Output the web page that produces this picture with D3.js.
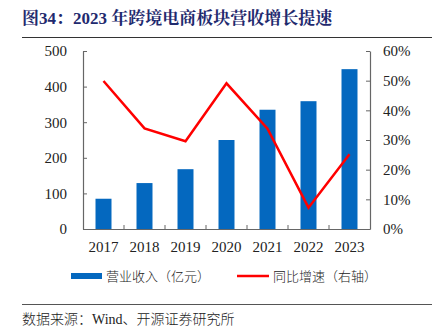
<!DOCTYPE html>
<html><head><meta charset="utf-8">
<script src="https://cdn.jsdelivr.net/npm/d3@7"></script>
<style>body{margin:0;background:#fff}svg{display:block}</style>
</head><body>
<script>
const years = ["2017","2018","2019","2020","2021","2022","2023"];
const revenue = [85, 129, 168, 250, 335, 359, 449];
const growth = [0.499, 0.339, 0.296, 0.491, 0.338, 0.072, 0.252];
const leftTicks = [0,100,200,300,400,500];
const rightTicks = [0,0.1,0.2,0.3,0.4,0.5,0.6];
const title = "图34：2023 年跨境电商板块营收增长提速";
const legendLabels = ["营业收入（亿元）","同比增速（右轴）"];
const source = "数据来源：Wind、开源证券研究所";

const W=437,H=330;
const svg=d3.select("body").append("svg").attr("width",W).attr("height",H);
const x0=83,x1=370,yTop=51,yBot=229;
const x=d3.scaleBand().domain(years).range([x0,x1]).paddingInner(0.61).paddingOuter(0.305);
const yL=d3.scaleLinear().domain([0,500]).range([yBot,yTop]);
const yR=d3.scaleLinear().domain([0,0.6]).range([yBot,yTop]);
const serif='"Times New Roman","Liberation Serif",serif';
const cjk='"Noto Sans CJK SC",sans-serif';
const axisColor="#666";

svg.append("text").attr("x",22).attr("y",24).attr("fill","#1F2A6E")
 .attr("font-family",'"Liberation Serif","Noto Serif CJK SC","Noto Sans CJK SC",serif')
 .attr("font-weight","bold").attr("font-size",17).text(title);
svg.append("line").attr("x1",22).attr("x2",432).attr("y1",37.5).attr("y2",37.5).attr("stroke","#333").attr("stroke-width",1);

svg.append("g").selectAll("rect").data(years).join("rect")
 .attr("x",d=>x(d)).attr("width",x.bandwidth())
 .attr("y",(d,i)=>yL(revenue[i])).attr("height",(d,i)=>yBot-yL(revenue[i]))
 .attr("fill","#0468BF");

const line=d3.line().x((d,i)=>x(years[i])+x.bandwidth()/2).y(d=>yR(d));
svg.append("path").datum(growth).attr("d",line).attr("fill","none").attr("stroke","#FF0000").attr("stroke-width",2.5).attr("stroke-linejoin","miter");

// left axis
const gl=svg.append("g").attr("transform",`translate(${x0},0)`)
 .call(d3.axisLeft(yL).tickValues(leftTicks).tickSizeInner(-4).tickSizeOuter(0).tickPadding(16));
// right axis
const gr=svg.append("g").attr("transform",`translate(${x1},0)`)
 .call(d3.axisRight(yR).tickValues(rightTicks).tickFormat(d3.format(".0%")).tickSizeInner(-4).tickSizeOuter(0).tickPadding(13));
// bottom axis
const gb=svg.append("g").attr("transform",`translate(0,${yBot})`)
 .call(d3.axisBottom(x).tickSize(0).tickPadding(12));
const sep=years.slice(1).map(d=>x(d)-x.step()*x.paddingInner()/2);
gb.selectAll("line.sep").data(sep).join("line").attr("class","sep")
 .attr("x1",d=>d).attr("x2",d=>d).attr("y1",0).attr("y2",-4).attr("stroke",axisColor);
[gl,gr,gb].forEach(g=>{
 g.selectAll("path.domain").attr("stroke",axisColor).attr("stroke-width",1.2);
 g.selectAll(".tick line").attr("stroke",axisColor);
 g.selectAll("text").attr("font-family",serif).attr("font-size",15).attr("fill","#222");
});

// legend
const lg=svg.append("g");
lg.append("rect").attr("x",71).attr("y",273).attr("width",31).attr("height",6).attr("fill","#0468BF");
lg.append("text").attr("x",106).attr("y",281).attr("font-family",cjk).attr("font-size",13).attr("font-weight",300).attr("fill","#222").text(legendLabels[0]);
lg.append("line").attr("x1",237).attr("x2",269).attr("y1",276).attr("y2",276).attr("stroke","#FF0000").attr("stroke-width",2.5);
lg.append("text").attr("x",273).attr("y",281).attr("font-family",cjk).attr("font-size",13).attr("font-weight",300).attr("fill","#222").text(legendLabels[1]);

svg.append("line").attr("x1",22).attr("x2",432).attr("y1",304.5).attr("y2",304.5).attr("stroke","#555").attr("stroke-width",1);
svg.append("text").attr("x",22).attr("y",324).attr("font-family",'"Liberation Serif","Noto Sans CJK SC",serif').attr("font-size",14).attr("font-weight",300).attr("fill","#222").text(source);
</script>
</body></html>
